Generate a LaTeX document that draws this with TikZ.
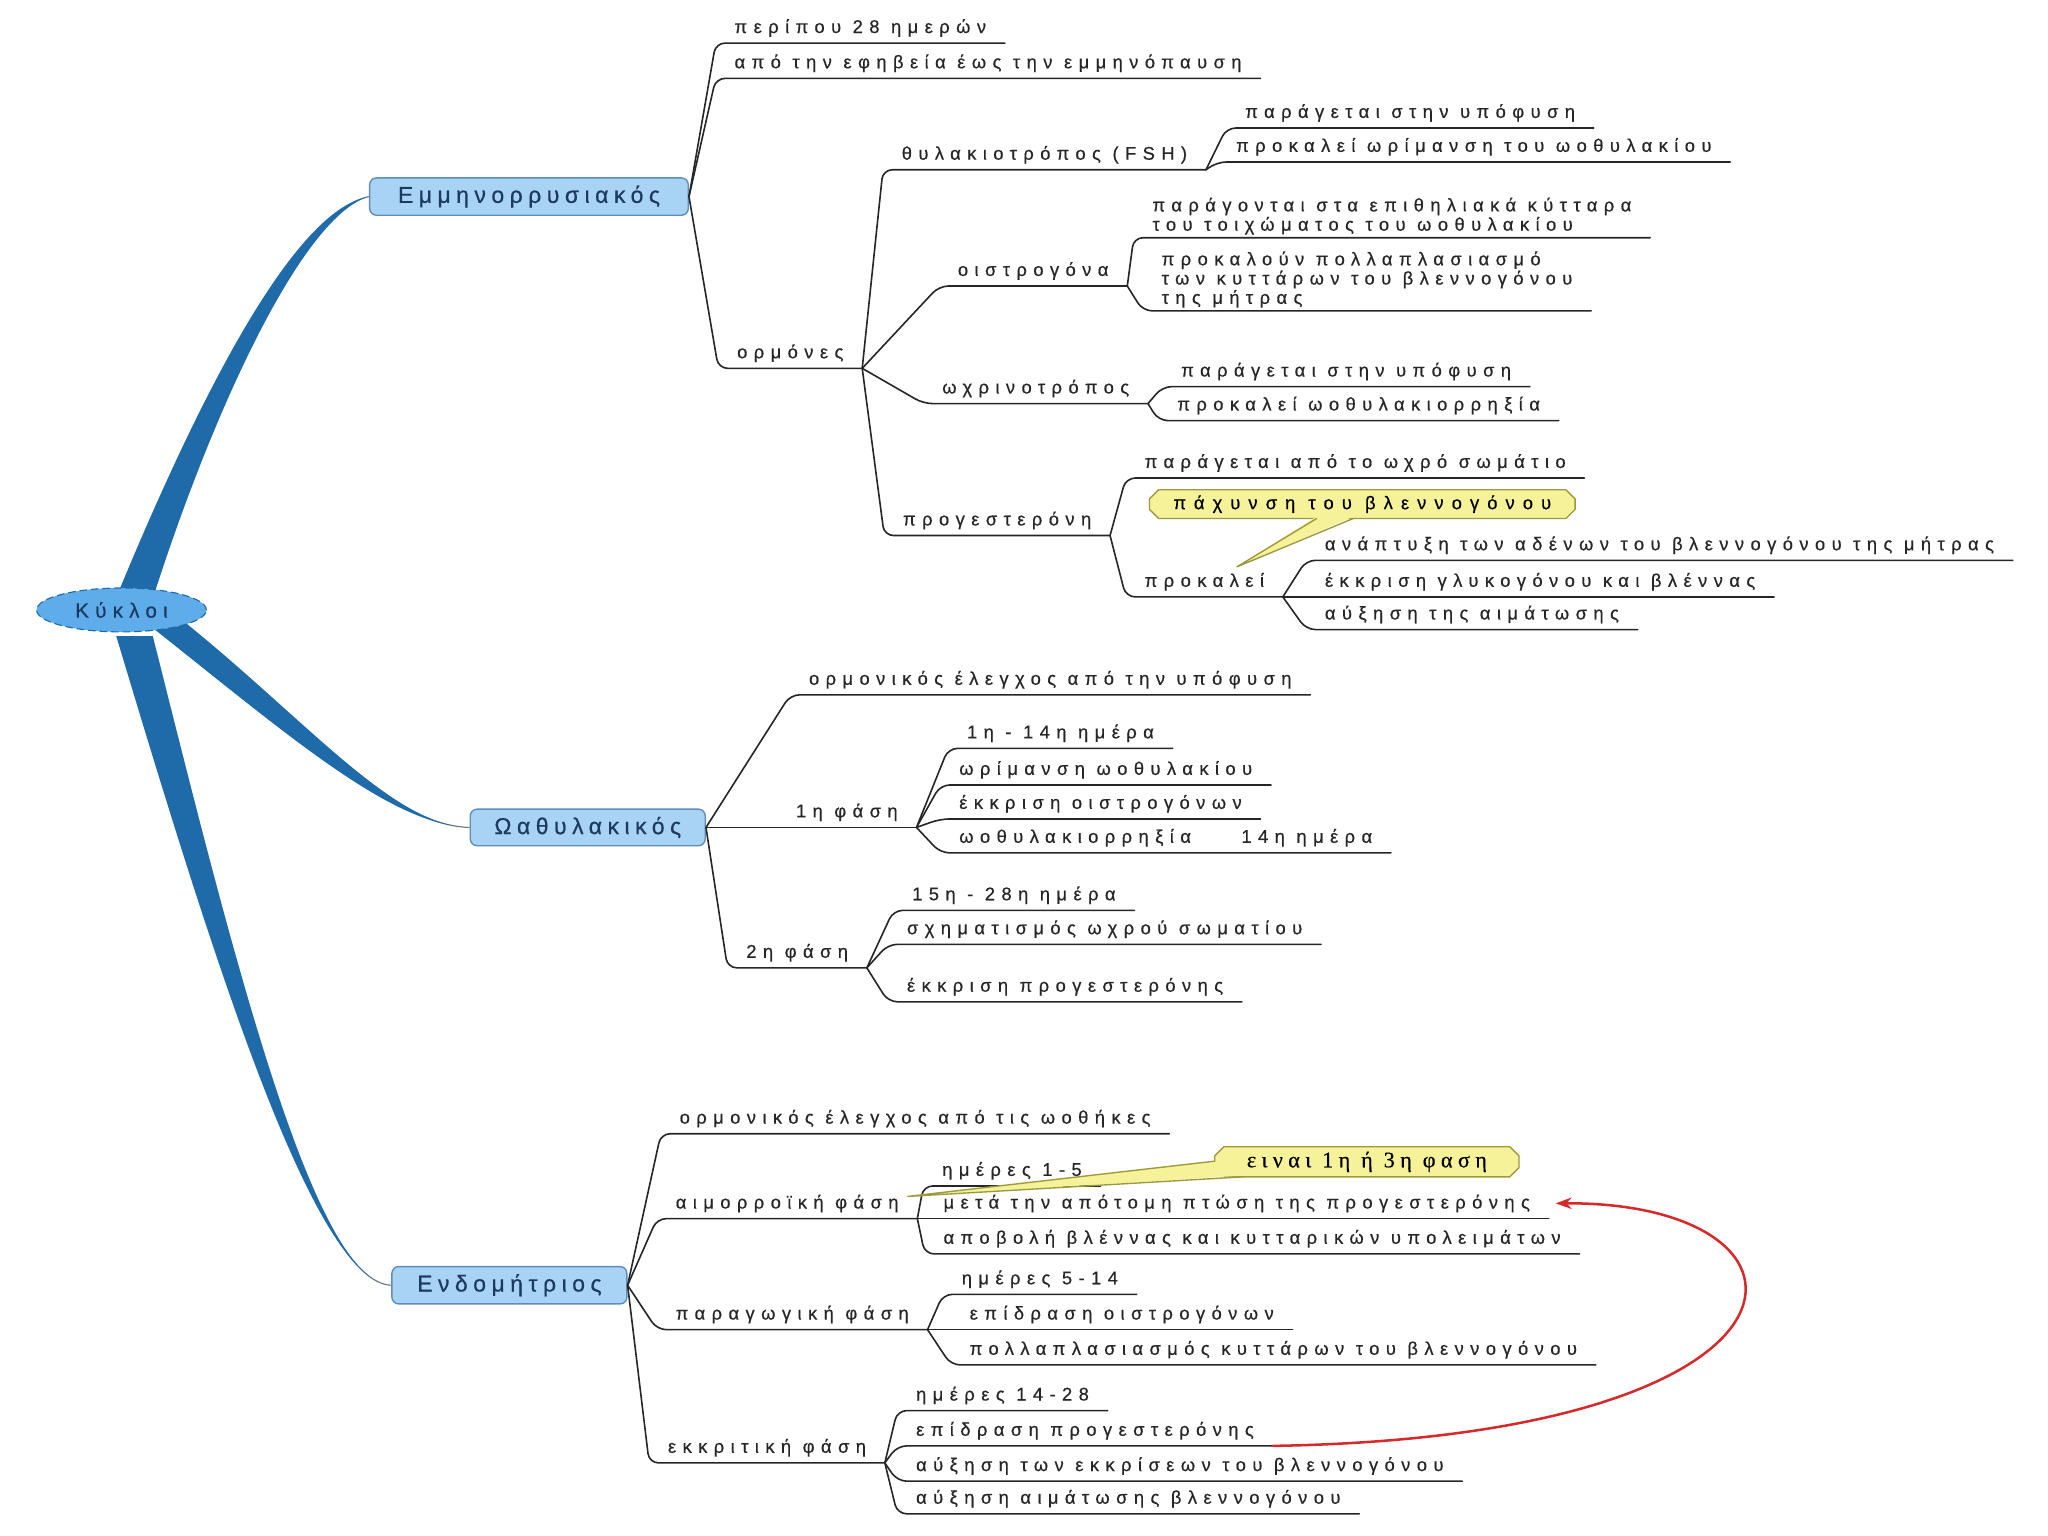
\documentclass[tikz,border=0pt]{standalone}
\usepackage{fontspec}
\setmainfont{Liberation Sans}[LetterSpace=35,FakeBold=0.5]
\newfontfamily\notefont{Liberation Serif}[LetterSpace=24,FakeBold=0.4]
\usetikzlibrary{arrows.meta,shapes.geometric,shapes.misc,backgrounds}
\definecolor{branchblue}{HTML}{1F6BAA}
\definecolor{boxfill}{HTML}{A8D3F4}
\definecolor{boxline}{HTML}{5E8DB8}
\definecolor{boxtext}{HTML}{1C3A60}
\definecolor{rootfill}{HTML}{5EADEA}
\definecolor{notefill}{HTML}{F6F29A}
\definecolor{noteline}{HTML}{9C9A3C}
\definecolor{arrowred}{HTML}{D42A2A}
\begin{document}
\begin{tikzpicture}[x=0.02cm,y=-0.02cm,line join=round,line cap=round,>={Stealth[length=7pt,width=5pt]}]
\tikzset{topic/.style={anchor=south west,inner xsep=8pt,inner ysep=1.2pt,text=black!85,font=\fontsize{8}{8.4}\selectfont,text height=0.75em,text depth=0.3em},
  topiclines/.style={topic,align=left,text height=,text depth=},
  mainbox/.style={rectangle,rounded corners=3pt,draw=boxline,fill=boxfill,text=boxtext,line width=0.6pt,minimum height=0.44cm,font=\fontsize{10}{11}\selectfont\addfontfeature{LetterSpace=24}},
  conn/.style={draw=black!85,line width=0.7pt,rounded corners=4pt},
  note/.style={chamfered rectangle,chamfered rectangle xsep=2pt,chamfered rectangle ysep=2pt,draw=noteline,fill=notefill,line width=0.6pt,inner sep=0pt},
  stem/.style={draw=gray,line width=0.5pt}}
\useasboundingbox (0,0) rectangle (1568,1176);

\node[ellipse,draw=branchblue,densely dashed,fill=rootfill,text=boxtext,minimum width=2.6cm,minimum height=0.64cm,line width=0.5pt,font=\fontsize{9}{10}\selectfont\addfontfeature{LetterSpace=30}] (kyk) at (93,467) {Κύκλοι};
\node[mainbox,minimum width=4.88cm] (emm) at (405,150.5) {Εμμηνορρυσιακός};
\node[mainbox,minimum width=3.6cm] (ooth) at (450,633.5) {Ωαθυλακικός};
\node[mainbox,minimum width=3.6cm] (endo) at (390,984) {Ενδομήτριος};

\begin{scope}[on background layer]
\draw[stem] (104,455) .. controls (158,308) and (228,162) .. (emm.west);
\draw[stem] (126,476) .. controls (228,557) and (300,632) .. (ooth.west);
\draw[stem] (103,487) .. controls (170,730) and (240,982) .. (endo.west);
\fill[branchblue] (90,455) .. controls (152,305) and (225,160) .. (emm.west) .. controls (232,165) and (164,312) .. (118,455) -- cycle;
\fill[branchblue] (136,472) .. controls (234,550) and (300,632) .. (ooth.west) .. controls (300,632) and (222,564) .. (116,480) -- cycle;
\fill[branchblue] (89,487) .. controls (162,730) and (240,982) .. (endo.west) .. controls (240,982) and (178,730) .. (117,487) -- cycle;
\end{scope}

\node[topic] (e1) at (548,33) {περίπου 28 ημερών};
\node[topic] (e2) at (548,60) {από την εφηβεία έως την εμμηνόπαυση};
\node[topic] (horm) at (550,282) {ορμόνες};
\node[topic] (fsh) at (676,130) {θυλακιοτρόπος (FSH)};
\node[topic] (fsh1) at (939,98) {παράγεται στην υπόφυση};
\node[topic] (fsh2) at (932,124) {προκαλεί ωρίμανση του ωοθυλακίου};
\node[topic] (oist) at (719,219) {οιστρογόνα};
\node[topiclines] (oist1) at (868,182) {παράγονται στα επιθηλιακά κύτταρα\\του τοιχώματος του ωοθυλακίου};
\node[topiclines] (oist2) at (875,238) {προκαλούν πολλαπλασιασμό\\των κυττάρων του βλεννογόνου\\της μήτρας};
\node[topic] (lh) at (707,309) {ωχρινοτρόπος};
\node[topic] (lh1) at (890,296) {παράγεται στην υπόφυση};
\node[topic] (lh2) at (887,322) {προκαλεί ωοθυλακιορρηξία};
\node[topic] (prog) at (677,410) {προγεστερόνη};
\node[topic] (prog1) at (862,366) {παράγεται από το ωχρό σωμάτιο};
\node[topic] (prok) at (862,457) {προκαλεί};
\node[topic] (prok1) at (1000,429) {ανάπτυξη των αδένων του βλεννογόνου της μήτρας};
\node[topic] (prok2) at (1000,457) {έκκριση γλυκογόνου και βλέννας};
\node[topic] (prok3) at (1000,482) {αύξηση της αιμάτωσης};

\node[topic] (o1) at (605,532) {ορμονικός έλεγχος από την υπόφυση};
\node[topic] (ph1) at (595,633.5) {1η φάση};
\node[topic] (ph1a) at (726,573) {1η - 14η ημέρα};
\node[topic] (ph1b) at (720,601) {ωρίμανση ωοθυλακίου};
\node[topic] (ph1c) at (720,627) {έκκριση οιστρογόνων};
\node[topic] (ph1d) at (720,653) {ωοθυλακιορρηξία\hspace{22pt}14η ημέρα};
\node[topic] (ph2) at (557,741) {2η φάση};
\node[topic] (ph2a) at (684,697) {15η - 28η ημέρα};
\node[topic] (ph2b) at (680,723) {σχηματισμός ωχρού σωματίου};
\node[topic] (ph2c) at (680,767) {έκκριση προγεστερόνης};

\node[topic] (n1) at (506,868) {ορμονικός έλεγχος από τις ωοθήκες};
\node[topic] (aim) at (503,933) {αιμορροϊκή φάση};
\node[topic] (aim1) at (707,908) {ημέρες 1-5};
\node[topic] (aim2) at (708,933) {μετά την απότομη πτώση της προγεστερόνης};
\node[topic] (aim3) at (708,960) {αποβολή βλέννας και κυτταρικών υπολειμάτων};
\node[topic] (par) at (503,1018) {παραγωγική φάση};
\node[topic] (par1) at (722,991) {ημέρες 5-14};
\node[topic] (par2) at (728,1018) {επίδραση οιστρογόνων};
\node[topic] (par3) at (728,1045) {πολλαπλασιασμός κυττάρων του βλεννογόνου};
\node[topic] (ekk) at (497,1120) {εκκριτική φάση};
\node[topic] (ekk1) at (687,1080) {ημέρες 14-28};
\node[topic] (ekk2) at (687,1107) {επίδραση προγεστερόνης};
\node[topic] (ekk3) at (687,1134) {αύξηση των εκκρίσεων του βλεννογόνου};
\node[topic] (ekk4) at (687,1159) {αύξηση αιμάτωσης βλεννογόνου};

\draw[conn] (emm.east) -- (e1.south west) -- (e1.south east);
\draw[conn] (emm.east) -- (e2.south west) -- (e2.south east);
\draw[conn] (emm.east) -- (horm.south west) -- (horm.south east);
\draw[conn] (horm.south east) -- (fsh.south west) -- (fsh.south east);
\draw[conn] (horm.south east) -- (oist.south west) -- (oist.south east);
\draw[conn] (horm.south east) -- (lh.south west) -- (lh.south east);
\draw[conn] (horm.south east) -- (prog.south west) -- (prog.south east);
\draw[conn] (fsh.south east) -- (fsh1.south west) -- (fsh1.south east);
\draw[conn] (fsh.south east) -- (fsh2.south west) -- (fsh2.south east);
\draw[conn] (oist.south east) -- (oist1.south west) -- (oist1.south east);
\draw[conn] (oist.south east) -- (oist2.south west) -- (oist2.south east);
\draw[conn] (lh.south east) -- (lh1.south west) -- (lh1.south east);
\draw[conn] (lh.south east) -- (lh2.south west) -- (lh2.south east);
\draw[conn] (prog.south east) -- (prog1.south west) -- (prog1.south east);
\draw[conn] (prog.south east) -- (prok.south west) -- (prok.south east);
\draw[conn] (prok.south east) -- (prok1.south west) -- (prok1.south east);
\draw[conn] (prok.south east) -- (prok2.south west) -- (prok2.south east);
\draw[conn] (prok.south east) -- (prok3.south west) -- (prok3.south east);

\draw[conn] (ooth.east) -- (o1.south west) -- (o1.south east);
\draw[conn] (ooth.east) -- (ph1.south west) -- (ph1.south east);
\draw[conn] (ooth.east) -- (ph2.south west) -- (ph2.south east);
\draw[conn] (ph1.south east) -- (ph1a.south west) -- (ph1a.south east);
\draw[conn] (ph1.south east) -- (ph1b.south west) -- (ph1b.south east);
\draw[conn] (ph1.south east) -- (ph1c.south west) -- (ph1c.south east);
\draw[conn] (ph1.south east) -- (ph1d.south west) -- (ph1d.south east);
\draw[conn] (ph2.south east) -- (ph2a.south west) -- (ph2a.south east);
\draw[conn] (ph2.south east) -- (ph2b.south west) -- (ph2b.south east);
\draw[conn] (ph2.south east) -- (ph2c.south west) -- (ph2c.south east);

\draw[conn] (endo.east) -- (n1.south west) -- (n1.south east);
\draw[conn] (endo.east) -- (aim.south west) -- (aim.south east);
\draw[conn] (endo.east) -- (par.south west) -- (par.south east);
\draw[conn] (endo.east) -- (ekk.south west) -- (ekk.south east);
\draw[conn] (aim.south east) -- (aim1.south west) -- (aim1.south east);
\draw[conn] (aim.south east) -- (aim2.south west) -- (aim2.south east);
\draw[conn] (aim.south east) -- (aim3.south west) -- (aim3.south east);
\draw[conn] (par.south east) -- (par1.south west) -- (par1.south east);
\draw[conn] (par.south east) -- (par2.south west) -- (par2.south east);
\draw[conn] (par.south east) -- (par3.south west) -- (par3.south east);
\draw[conn] (ekk.south east) -- (ekk1.south west) -- (ekk1.south east);
\draw[conn] (ekk.south east) -- (ekk2.south west) -- (ekk2.south east);
\draw[conn] (ekk.south east) -- (ekk3.south west) -- (ekk3.south east);
\draw[conn] (ekk.south east) -- (ekk4.south west) -- (ekk4.south east);

\node[note,minimum width=6.52cm,minimum height=0.44cm,font=\fontsize{8}{8.4}\selectfont\addfontfeature{LetterSpace=44}] (thick) at (1043,386) {πάχυνση του βλεννογόνου};
\coordinate (thicktip) at (947,434);
\fill[notefill] (1008,395.5) -- (thicktip) -- (1036,395.5) -- cycle;
\draw[noteline,line width=0.6pt] (1008,397) -- (thicktip) -- (1036,397);

\node[note,minimum width=4.66cm,minimum height=0.46cm,font=\notefont\fontsize{9.7}{10}\selectfont] (phase) at (1046.5,889.5) {ειναι 1η ή 3η φαση};
\coordinate (phasetip) at (695,916);
\fill[notefill] (931.5,889) -- (phasetip) -- (952,900) -- cycle;
\draw[noteline,line width=0.6pt] (930,889) -- (phasetip) -- (952,901);

\draw[->,arrowred,line width=1.1pt] (ekk2.south east) .. controls (1410,1100) and (1410,920) .. ([xshift=3pt]aim2.east);
\end{tikzpicture}
\end{document}
